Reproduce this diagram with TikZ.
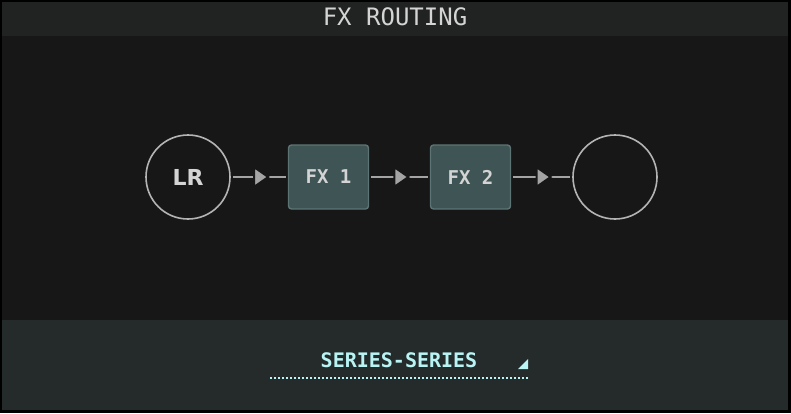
\documentclass[tikz,border=0pt]{standalone}
\usepackage{fontspec}
\setmonofont{DejaVu Sans Mono}
\setsansfont{DejaVu Sans}
\usepackage{tikz}
\usetikzlibrary{shapes.geometric}

\definecolor{panelbg}{HTML}{171717}
\definecolor{titlebg}{HTML}{212322}
\definecolor{footbg}{HTML}{252A2B}
\definecolor{wire}{HTML}{A4A4A4}
\definecolor{ring}{HTML}{B4B4B4}
\definecolor{fxfill}{HTML}{3F5454}
\definecolor{fxedge}{HTML}{5C7574}
\definecolor{labelgray}{HTML}{D4D4D4}
\definecolor{modecyan}{HTML}{B8F4F4}

\tikzset{
  port/.style={circle, draw=ring, line width=1.6pt, minimum size=84pt, inner sep=0pt,
    text=labelgray, font=\sffamily\bfseries\fontsize{22}{22}\selectfont},
  fxbox/.style={rectangle, rounded corners=3pt, draw=fxedge, fill=fxfill, line width=1.4pt,
    minimum width=80pt, minimum height=64pt, text=labelgray,
    font=\ttfamily\bfseries\fontsize{19}{19}\selectfont},
  wirelink/.style={draw=wire, line width=1.5pt, shorten <=2pt, shorten >=2pt},
  tip/.style={isosceles triangle, isosceles triangle apex angle=70, fill=wire,
    draw=panelbg, line width=2pt,
    inner sep=0pt, minimum height=14pt, minimum width=16pt, sloped, allow upside down}
}

\begin{document}
\begin{tikzpicture}[x=1pt, y=-1pt]
      \useasboundingbox (0,0) rectangle (791,413);
      \fill[black] (0,0) rectangle (791,413);
      \fill[panelbg] (2,2) rectangle (788,410);
      \fill[titlebg] (2,2) rectangle (788,36);
      \fill[footbg] (2,320) rectangle (788,410);

      \node (title) at (395,17) [text=labelgray, font=\ttfamily\fontsize{24}{24}\selectfont] {FX ROUTING};

      \node (lr) at (188,177) [port] {LR};
      \node (fx1) at (328.5,177) [fxbox] {FX 1};
      \node (fx2) at (470.5,177) [fxbox] {FX 2};
      \node (out) at (615,177) [port] {};

      \draw[wirelink] (lr) -- node[tip] {} (fx1);
      \draw[wirelink] (fx1) -- node[tip] {} (fx2);
      \draw[wirelink] (fx2) -- node[tip] {} (out);

      \node (mode) at (399,360) [text=modecyan, font=\ttfamily\bfseries\fontsize{20}{20}\selectfont] {SERIES-SERIES};
      \coordinate (lineleft) at (270,378);
      \coordinate (lineright) at (528,378);
      \draw[modecyan, line width=2pt, dash pattern=on 2pt off 2pt] (lineleft) -- (lineright);
      \fill[modecyan] (518,369) -- (528,369) -- (528,359) -- cycle;
    \end{tikzpicture}
\end{document}
